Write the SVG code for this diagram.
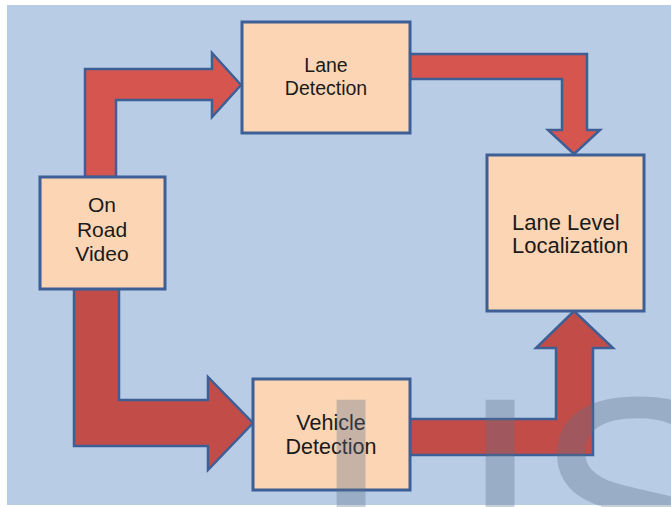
<svg xmlns="http://www.w3.org/2000/svg" width="671" height="507" viewBox="0 0 671 507">
<style>
.box{fill:#fcd5b4;stroke:#3d5f95;stroke-width:3}
.lbl{font-family:"Liberation Sans",Arial,sans-serif;fill:#1a1a1a;text-anchor:middle}
.arr{stroke:#3d5f95;stroke-width:2.5;stroke-linejoin:miter}
.up{fill:#d6564f}
.dn{fill:#c24c48}
.wm{font-family:"Liberation Sans",Arial,sans-serif;font-size:310px;fill:#5e6f88;opacity:0.33}
</style>
<rect x="0" y="0" width="671" height="507" fill="#ffffff"/>
<rect x="7" y="5" width="664" height="500" fill="#b9cce5"/>
<g id="connectors">
<polygon class="arr up" points="85,177 85,69 212,69 212,53 241,85 212,117 212,100 116,100 116,177"/>
<polygon class="arr up" points="410,54 587,54 587,130 600,130 574,154 548,130 562,130 562,79 410,79"/>
<polygon class="arr dn" points="74,289 74,446 208,446 208,470 253,423 208,377 208,400 119,400 119,289"/>
<polygon class="arr dn" points="410,455 593,455 593,348 613,348 574,311 536,348 556,348 556,419 410,419"/>
</g>
<g id="lane-detection">
<rect class="box" x="242" y="22" width="168" height="111"/>
<text class="lbl" x="326" y="72" font-size="19.5">Lane</text>
<text class="lbl" x="326" y="95" font-size="19.5">Detection</text>
</g>
<g id="on-road-video">
<rect class="box" x="40" y="177" width="125" height="112"/>
<text class="lbl" x="102" y="212" font-size="21">On</text>
<text class="lbl" x="102" y="237" font-size="21">Road</text>
<text class="lbl" x="102" y="261" font-size="21">Video</text>
</g>
<g id="lane-level-localization">
<rect class="box" x="487" y="155" width="157" height="156"/>
<text class="lbl" x="512" y="230" font-size="22" style="text-anchor:start">Lane Level</text>
<text class="lbl" x="512" y="253" font-size="22" style="text-anchor:start">Localization</text>
</g>
<g id="vehicle-detection">
<rect class="box" x="253" y="379" width="157" height="111"/>
<text class="lbl" x="331" y="430" font-size="21.5">Vehicle</text>
<text class="lbl" x="331" y="454" font-size="21.5">Detection</text>
</g>
<g id="watermark">
<text class="wm" x="308" y="613">I</text>
<text class="wm" x="457" y="613">I</text>
<text class="wm" x="533" y="613">S</text>
</g>
</svg>
